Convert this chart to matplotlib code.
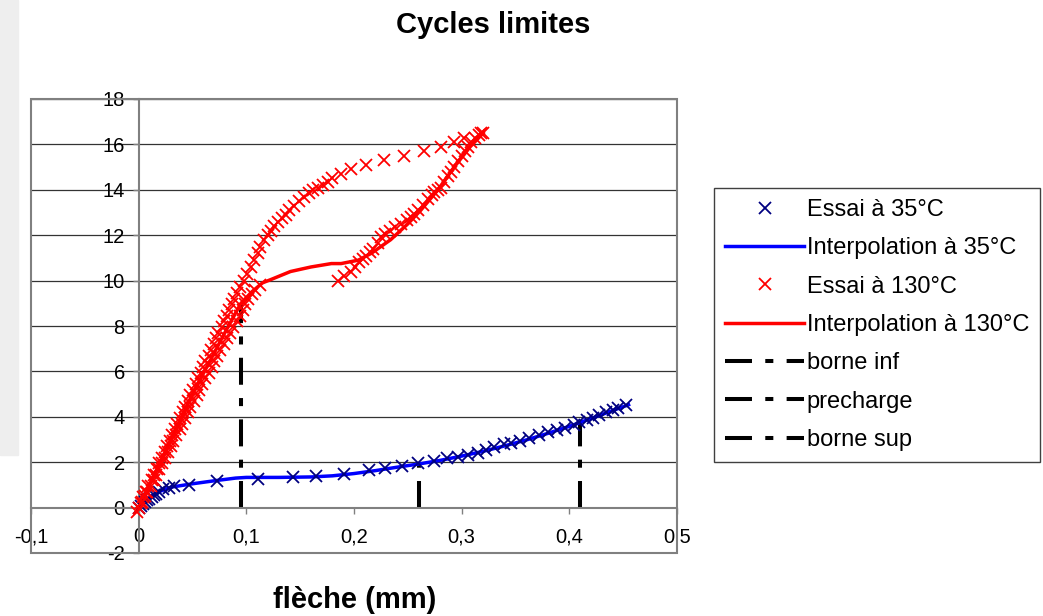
import numpy as np
import matplotlib
matplotlib.use("Agg")
import matplotlib.pyplot as plt
from matplotlib.patches import Rectangle

plt.rcParams['font.family'] = ['Liberation Sans', 'DejaVu Sans']
plt.rcParams['axes.unicode_minus'] = False

# Essai a 35 C (points)
x_35 = [0, 0.002, 0.004, 0.006, 0.008, 0.010, 0.012, 0.014, 0.016, 0.019, 0.023, 0.028, 0.033,
        0.047, 0.073, 0.111, 0.143, 0.165, 0.191, 0.214, 0.229, 0.245, 0.259, 0.274, 0.286,
        0.297, 0.306, 0.315, 0.323, 0.330, 0.339, 0.346, 0.354, 0.363, 0.372, 0.380, 0.389,
        0.396, 0.404, 0.409, 0.416, 0.422, 0.428, 0.434, 0.441, 0.445, 0.453]
y_35 = [0, 0.08, 0.16, 0.24, 0.32, 0.40, 0.48, 0.55, 0.62, 0.70, 0.80, 0.88, 0.93,
        1.0, 1.15, 1.27, 1.36, 1.40, 1.50, 1.64, 1.75, 1.85, 1.95, 2.07, 2.18,
        2.25, 2.33, 2.42, 2.55, 2.68, 2.78, 2.86, 2.94, 3.07, 3.20, 3.33, 3.43,
        3.52, 3.66, 3.75, 3.88, 3.96, 4.08, 4.20, 4.30, 4.40, 4.53]

# Interpolation a 35 C
xi_35 = [0, 0.01, 0.02, 0.03, 0.05, 0.07, 0.09, 0.10, 0.13, 0.16, 0.18, 0.20, 0.22, 0.24,
         0.26, 0.28, 0.30, 0.32, 0.34, 0.36, 0.38, 0.40, 0.42, 0.44, 0.455]
yi_35 = [0, 0.45, 0.72, 0.90, 1.05, 1.18, 1.30, 1.33, 1.33, 1.35, 1.40, 1.50, 1.63, 1.78,
         1.92, 2.08, 2.27, 2.48, 2.72, 2.98, 3.27, 3.58, 3.92, 4.27, 4.53]

# Essai a 130 C - premiere montee
x_130a = [-0.002, 0.002, 0.004, 0.007, 0.009, 0.012, 0.014, 0.017, 0.019, 0.022, 0.024, 0.026,
          0.029, 0.031, 0.034, 0.036, 0.038, 0.041, 0.043, 0.046, 0.048, 0.050, 0.053, 0.055,
          0.058, 0.060, 0.062, 0.065, 0.067, 0.070, 0.072, 0.074, 0.077, 0.079, 0.082, 0.084,
          0.087, 0.089, 0.091, 0.094, 0.098, 0.101, 0.104, 0.107, 0.111, 0.113, 0.116, 0.120,
          0.123, 0.126, 0.129, 0.133, 0.137, 0.140, 0.144, 0.149, 0.154, 0.158, 0.162, 0.167,
          0.171, 0.176, 0.180, 0.188, 0.197, 0.211, 0.228, 0.246, 0.265, 0.281, 0.293, 0.302,
          0.318]
y_130a = [-0.2, 0.2, 0.45, 0.7, 0.95, 1.2, 1.45, 1.7, 1.95, 2.2, 2.45, 2.7,
          2.95, 3.2, 3.45, 3.7, 3.95, 4.2, 4.45, 4.7, 4.95, 5.2, 5.45, 5.7,
          5.95, 6.2, 6.45, 6.7, 6.95, 7.2, 7.45, 7.7, 7.95, 8.2, 8.45, 8.7,
          8.95, 9.2, 9.45, 9.7, 10.0, 10.3, 10.6, 10.9, 11.2, 11.5, 11.8, 12.0,
          12.2, 12.4, 12.6, 12.75, 12.9, 13.1, 13.3, 13.5, 13.7, 13.85, 14.0, 14.1,
          14.2, 14.35, 14.5, 14.7, 14.9, 15.1, 15.3, 15.5, 15.7, 15.9, 16.1, 16.3,
          16.5]

# Essai a 130 C - deuxieme montee
x_130b = [0, 0.003, 0.006, 0.008, 0.011, 0.014, 0.016, 0.019, 0.022, 0.024, 0.027, 0.030,
          0.032, 0.035, 0.038, 0.040, 0.043, 0.046, 0.048, 0.051, 0.054, 0.056, 0.059, 0.062,
          0.065, 0.068, 0.070, 0.073, 0.076, 0.079, 0.082, 0.085, 0.088, 0.091, 0.094, 0.097,
          0.099, 0.102, 0.105, 0.108, 0.113,
          0.185, 0.191, 0.197, 0.201, 0.205, 0.208, 0.211, 0.215, 0.218, 0.222, 0.225, 0.229,
          0.233, 0.238, 0.244, 0.249, 0.253, 0.256, 0.259, 0.264, 0.269, 0.272, 0.274, 0.278,
          0.281, 0.284, 0.287, 0.290, 0.293, 0.297, 0.300, 0.303, 0.306, 0.309, 0.312, 0.316,
          0.320]
y_130b = [0, 0.25, 0.5, 0.7, 0.95, 1.2, 1.45, 1.7, 1.95, 2.2, 2.45, 2.7,
          2.95, 3.2, 3.45, 3.7, 3.95, 4.2, 4.45, 4.7, 4.95, 5.2, 5.45, 5.7,
          5.95, 6.2, 6.45, 6.7, 6.95, 7.2, 7.45, 7.7, 7.95, 8.2, 8.45, 8.7,
          8.95, 9.2, 9.4, 9.6, 9.8,
          10.0, 10.2, 10.4, 10.6, 10.8, 10.95, 11.1, 11.25, 11.4, 11.65, 11.9, 12.05,
          12.2, 12.35, 12.5, 12.65, 12.8, 12.95, 13.1, 13.35, 13.6, 13.75, 13.9, 14.0,
          14.1, 14.35, 14.6, 14.8, 15.0, 15.25, 15.5, 15.7, 15.9, 16.1, 16.3, 16.4,
          16.5]

# Interpolation a 130 C
xi_130 = [0, 0.02, 0.05, 0.08, 0.095, 0.105, 0.115, 0.123, 0.141, 0.160, 0.179, 0.188,
          0.204, 0.216, 0.234, 0.250, 0.262, 0.278, 0.293, 0.308, 0.320]
yi_130 = [0, 2.0, 5.0, 7.7, 9.0, 9.5, 9.9, 10.05, 10.4, 10.6, 10.75, 10.75,
          10.9, 11.2, 11.8, 12.5, 13.1, 14.0, 15.0, 15.9, 16.5]

# Bornes
borne_inf = [0.095, 0.095]
borne_inf_y = [0, 9.0]
precharge = [0.26, 0.26]
precharge_y = [0, 1.92]
borne_sup = [0.41, 0.41]
borne_sup_y = [0, 3.75]

x_ticks = [-0.1, 0, 0.1, 0.2, 0.3, 0.4, 0.5]
x_tick_labels = ['-0,1', '0', '0,1', '0,2', '0,3', '0,4', '0,5']
y_ticks = [-2, 0, 2, 4, 6, 8, 10, 12, 14, 16, 18]

# Figure
fig = plt.figure(figsize=(10.43, 6.16), dpi=100)
fig.patches.append(Rectangle((0, 0.2614), 18 / 1043, 1 - 0.2614, transform=fig.transFigure,
                             color='#eeeeee', zorder=0))
ax = fig.add_axes([31 / 1043, 63 / 616, 646 / 1043, 454 / 616])

dash = (0, (6.7, 3.3, 2, 3.3))
h5, = ax.plot(borne_inf, borne_inf_y, color='black', lw=2.9, linestyle=dash, zorder=2, label='borne inf')
h6, = ax.plot(precharge, precharge_y, color='black', lw=2.9, linestyle=dash, zorder=2, label='precharge')
h7, = ax.plot(borne_sup, borne_sup_y, color='black', lw=2.9, linestyle=dash, zorder=2, label='borne sup')

h2, = ax.plot(xi_35, yi_35, color='#0000ff', lw=2.5, zorder=3, label='Interpolation à 35°C')
h1, = ax.plot(x_35, y_35, linestyle='none', marker='x', ms=9, mew=1.3, color='#000080', zorder=4,
              label='Essai à 35°C')
h4, = ax.plot(xi_130, yi_130, color='#ff0000', lw=2.5, zorder=3, label='Interpolation à 130°C')
ax.plot(x_130a, y_130a, linestyle='none', marker='x', ms=9, mew=1.3, color='#ff0000', zorder=4)
h3, = ax.plot(x_130b, y_130b, linestyle='none', marker='x', ms=9, mew=1.3, color='#ff0000', zorder=4,
              label='Essai à 130°C')

ax.set_xlim(-0.1, 0.5)
ax.set_ylim(-2, 18)

# axes croisees en 0 (style Excel)
for s in ['top', 'right']:
    ax.spines[s].set_visible(False)
ax.spines['left'].set_position(('data', 0))
ax.spines['bottom'].set_position(('data', 0))
ax.spines['left'].set_color('#808080')
ax.spines['bottom'].set_color('#808080')
ax.spines['left'].set_linewidth(1.5)
ax.spines['bottom'].set_linewidth(1.5)
ax.add_patch(Rectangle((0, 0), 1, 1, transform=ax.transAxes, fill=False,
                       edgecolor='#808080', lw=1.5, clip_on=False, zorder=5))

ax.set_xticks(x_ticks)
ax.set_xticklabels(x_tick_labels)
ax.set_yticks(y_ticks)
ax.tick_params(axis='both', colors='#808080', labelcolor='black', labelsize=14.5, length=4, width=1)
ax.tick_params(axis='x', pad=10)
ax.tick_params(axis='y', pad=6)

for yv in y_ticks[2:]:
    ax.axhline(yv, color='#333333', lw=0.9, zorder=1)

fig.text(0.473, 0.959, 'Cycles limites', fontsize=21, fontweight='bold', ha='center', va='center')
fig.text(0.340, 0.026, 'flèche (mm)', fontsize=21, fontweight='bold', ha='center', va='center')

leg = fig.legend([h1, h2, h3, h4, h5, h6, h7],
                 [h.get_label() for h in [h1, h2, h3, h4, h5, h6, h7]],
                 loc='upper left', bbox_to_anchor=(714 / 1043, 1 - 188 / 616),
                 fontsize=17, numpoints=1, handlelength=3.35, handletextpad=0.1,
                 labelspacing=0.69, borderpad=0.47, borderaxespad=0,
                 fancybox=False, framealpha=1, edgecolor='#404040')
leg.get_frame().set_linewidth(1)

fig.savefig('out.png', dpi=100)
